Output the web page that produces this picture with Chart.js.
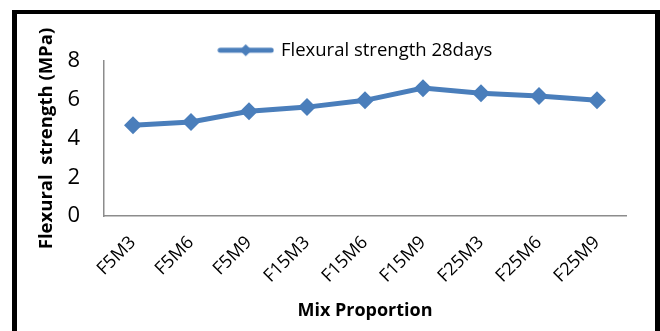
<!DOCTYPE html>
<html>
<head>
<meta charset="utf-8">
<script src="https://cdn.jsdelivr.net/npm/chart.js@4.4.1/dist/chart.umd.min.js"></script>
<style>
  html, body { margin: 0; padding: 0; background: #fff; overflow: hidden; }
  #wrap { position: relative; width: 660px; height: 331px; }
  #frame {
    position: absolute; left: 12px; top: 10px; width: 638px; height: 400px;
    border-left: 5px solid #000; border-top: 4px solid #000; border-right: 5px solid #000;
    pointer-events: none;
  }
  canvas { position: absolute; left: 0; top: 0; }
</style>
</head>
<body>
<div id="wrap">
  <canvas id="c" width="660" height="331"></canvas>
  <div id="frame"></div>
</div>
<script>
// Mix proportions and 28-day flexural strength (MPa)
const categories = ["F5M3", "F5M6", "F5M9", "F15M3", "F15M6", "F15M9", "F25M3", "F25M6", "F25M9"];
const strength28 = [4.69, 4.85, 5.41, 5.62, 5.97, 6.60, 6.34, 6.19, 5.98];
const yTicks = [0, 2, 4, 6, 8];

const BLUE = "#4A7EBB";
const FONT = "'Open Sans', 'DejaVu Sans', sans-serif";

// Legend symbol: a short thick line with a small diamond in the middle
function legendSymbol() {
  const c = document.createElement("canvas");
  c.width = 57; c.height = 14;
  const g = c.getContext("2d");
  g.strokeStyle = BLUE; g.lineWidth = 5; g.lineCap = "round";
  g.beginPath(); g.moveTo(3, 7); g.lineTo(54, 7); g.stroke();
  g.fillStyle = BLUE;
  g.beginPath(); g.moveTo(28.5, 1); g.lineTo(34.5, 7); g.lineTo(28.5, 13); g.lineTo(22.5, 7); g.closePath(); g.fill();
  return c;
}

// Keep the legend band compact so the plot starts right below it,
// and nudge the centred legend row slightly to the left.
const compactLegend = {
  id: "compactLegend",
  beforeLayout(chart) {
    const lg = chart.legend;
    if (!lg || lg._compact) return;
    const fit = lg.fit.bind(lg);
    lg.fit = function () {
      fit();
      this.height = 24;
      if (this.lineWidths && this.lineWidths.length) this.lineWidths[0] += 18;
    };
    lg._compact = true;
  }
};

new Chart(document.getElementById("c"), {
  type: "line",
  data: {
    labels: categories,
    datasets: [{
      label: "Flexural strength 28days",
      data: strength28,
      borderColor: BLUE,
      backgroundColor: BLUE,
      borderWidth: 5,
      pointStyle: "rectRot",
      pointRadius: 9,
      pointHoverRadius: 9,
      pointBorderWidth: 0,
      tension: 0
    }]
  },
  plugins: [compactLegend],
  options: {
    responsive: false,
    animation: false,
    layout: { padding: { left: 36, right: 34, top: 37, bottom: 9 } },
    plugins: {
      tooltip: { enabled: false },
      legend: {
        display: true,
        position: "top",
        fullSize: false,
        labels: {
          usePointStyle: true,
          pointStyle: legendSymbol(),
          pointStyleWidth: 52,
          boxHeight: 14,
          color: "#000",
          padding: 4,
          font: { family: FONT, size: 18.5 }
        }
      }
    },
    scales: {
      x: {
        offset: true,
        afterFit: (s) => { s.height = 106; },
        grid: { display: false, drawTicks: false },
        border: { display: true, color: "#8c8c8c", width: 1.5 },
        ticks: {
          color: "#000",
          maxRotation: 45, minRotation: 45,
          padding: 16,
          font: { family: FONT, size: 18 }
        },
        title: {
          display: true, text: "Mix Proportion", color: "#000",
          font: { family: FONT, size: 18, weight: "bold" },
          padding: { top: 0, bottom: 0 }
        }
      },
      y: {
        min: 0, max: 8,
        afterBuildTicks: (axis) => { axis.ticks = yTicks.map(v => ({ value: v })); },
        afterFit: (s) => { s.width = 68; },
        grid: { display: false, drawTicks: false },
        border: { display: true, color: "#8c8c8c", width: 1.5 },
        ticks: {
          color: "#000",
          padding: 24,
          font: { family: FONT, size: 22 }
        },
        title: {
          display: true, text: "Flexural  strength (MPa)", color: "#000",
          font: { family: FONT, size: 18.5, weight: "bold" },
          padding: { top: 0, bottom: 0 }
        }
      }
    }
  }
});
</script>
</body>
</html>
